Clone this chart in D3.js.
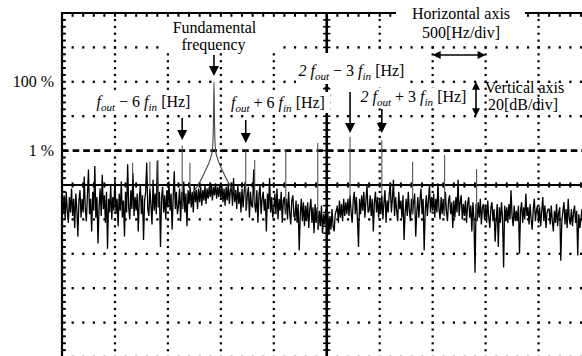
<!DOCTYPE html>
<html><head><meta charset="utf-8">
<script src="https://cdn.jsdelivr.net/npm/d3@7"></script>
<style>
html,body{margin:0;padding:0;background:#fff;}
svg{display:block;}
text{white-space:pre;font-family:"Liberation Serif","Times New Roman",serif;}
</style></head><body>
<svg id="chart" width="582" height="356"></svg>
<script>
// ---------------- DATA ----------------
// spectrum trace sampled every 10 Hz from 0 Hz (dB, 0 dB = 100 %)
const freqStepHz = 10;
const noiseDb = [
 -70,-77,-66,-80,-64,-75,-82,-67,-76,-62,
 -78,-68,-85,-65,-74,-90,-69,-63,-79,-68,
 -76,-55,-74,-81,-66,-51,-77,-68,-87,-64,
 -75,-49,-79,-67,-94,-73,-62,-78,-54,-74,
 -66,-82,-64,-97,-68,-76,-60,-80,-67,-75,
 -56,-77,-68,-84,-65,-75,-58,-79,-69,-90,
 -64,-76,-48,-73,-80,-63,-74,-53,-78,-67,
 -75,-65,-87,-68,-60,-77,-66,-92,-69,-64,
 -47,-74,-78,-62,-72,-83,-57,-75,-65,-77,
 -46,-73,-64,-96,-68,-61,-76,-66,-80,-63,
 -73,-58,-75,-65,-86,-67,-52,-74,-64,-77,
 -72,-62,-81,-64,-74,-58,-76,-65,-84,-63,
 -71,-61,-73,-64,-76,-60,-70,-63,-74,-62,
 -70,-61,-72,-63,-69,-60,-71,-62,-68,-61,
 -67,-60,-69,-61,-66,-59,-68,-61,-67,-60,
 -68,-60,-70,-62,-72,-61,-69,-59,-71,-63,
 -61,-72,-56,-70,-63,-74,-60,-71,-64,-76,
 -62,-73,-64,-58,-75,-66,-61,-79,-64,-72,
 -73,-51,-71,-76,-63,-82,-66,-60,-77,-68,
 -64,-75,-68,-87,-65,-74,-56,-76,-67,-79,
 -74,-65,-77,-62,-80,-68,-75,-64,-82,-69,
 -67,-77,-68,-80,-64,-76,-83,-69,-66,-78,
 -79,-69,-82,-71,-98,-77,-68,-81,-70,-84,
 -72,-81,-70,-85,-74,-68,-82,-73,-88,-71,
 -82,-73,-86,-75,-84,-72,-88,-77,-83,-74,
 -85,-76,-89,-78,-86,-74,-84,-87,-77,-75,
 -72,-82,-69,-79,-71,-81,-68,-78,-70,-77,
 -68,-78,-66,-76,-82,-69,-64,-77,-67,-80,
 -96,-68,-77,-66,-75,-64,-79,-69,-60,-76,
 -75,-66,-78,-68,-87,-70,-64,-76,-67,-79,
 -68,-77,-66,-80,-70,-63,-82,-69,-76,-65,
 -59,-76,-68,-57,-78,-67,-75,-81,-64,-74,
 -69,-79,-66,-92,-76,-68,-78,-64,-75,-81,
 -68,-77,-70,-65,-90,-76,-67,-79,-69,-62,
 -77,-68,-98,-75,-66,-78,-69,-60,-76,-67,
 -75,-65,-79,-68,-76,-59,-74,-80,-67,-77,
 -68,-78,-64,-75,-81,-69,-66,-77,-70,-85,
 -69,-79,-67,-76,-57,-78,-70,-66,-80,-71,
 -78,-69,-82,-71,-67,-79,-72,-87,-70,-80,
 -111,-71,-81,-70,-79,-68,-83,-73,-71,-80,
 -72,-82,-69,-79,-85,-73,-70,-81,-74,-93,
 -80,-71,-96,-73,-82,-70,-79,-108,-72,-81,
 -73,-82,-71,-80,-63,-78,-84,-72,-81,-75,
 -81,-72,-100,-75,-70,-82,-73,-80,-65,-78,
 -73,-83,-71,-80,-86,-74,-68,-81,-75,-72,
 -82,-73,-84,-75,-67,-81,-72,-85,-76,-74,
 -74,-83,-72,-81,-87,-75,-82,-71,-84,-76,
 -73,-104,-81,-75,-70,-83,-74,-85,-68,-80,
 -83,-74,-84,-76,-72,-82,-75,-101,-77,-85,
 -80,-74
];
// discrete spectral lines (Hz, peak dB)
const harmonicFreqs = [667, 830, 906, 1135, 1208, 1735, 1820, 2113, 2415, 2720, 3020, 3311, 3613, 3915];
const harmonicDb    = [-47, -46.5, -45.5, -37, -47, -40, -45.5, -39, -35.6, -32, -34, -46.5, -42.6, -50.7];
// fundamental component and its skirt
const fundamentalFreq = 1435;
const skirtOffsetHz = [-200,-150,-110,-80,-50,-30,-16,-8,-4,0,4,8,16,30,50,80,110,150,200];
const skirtDb       = [-65,-60,-55.5,-51.5,-47.5,-44,-40,-32,-20,0,-20,-32,-40,-44,-47.5,-51.5,-55.5,-60,-65];
// screen divisions
const xDivHz  = [0,500,1000,1500,2000,2500,3000,3500,4000,4500,5000];
const yDivDb  = [40,20,0,-20,-40,-60,-80,-100,-120,-140,-160];
const levelLabels = ["100 %", "1 %"];
const levelDb = [0, -40];
const f_in = 50;

// ---------------- SCALES ----------------
const svg = d3.select("#chart");
const x = d3.scaleLinear().domain([0, 5000]).range([62, 591.5]);
const y = d3.scaleLinear().domain([-160, 40]).range([357, 13]);
const centerHz = 2500, centerDb = -60, refDb = -40;
const FONT = "Liberation Serif";

// ---------------- GRID ----------------
const grid = svg.append("g");
const minorX = d3.range(0, 5001, 100);   // 1/5 division
const minorY = d3.range(-160, 41, 4);
yDivDb.filter(d => d !== 40 && d !== centerDb && d !== refDb).forEach(d => {
  grid.selectAll(null).data(minorX.filter(f => f > 0)).join("rect")
    .attr("x", f => x(f) - 1).attr("y", y(d) - 1.2).attr("width", 2.2).attr("height", 2.4).attr("fill", "#000");
});
xDivHz.filter(f => f > 0 && f !== centerHz).forEach(f => {
  grid.selectAll(null).data(minorY.filter(d => d < 40)).join("rect")
    .attr("x", x(f) - 1.1).attr("y", d => y(d) - 1).attr("width", 2.2).attr("height", 2.2).attr("fill", "#000");
});
grid.append("line").attr("x1", x(0)).attr("x2", 582).attr("y1", y(refDb)).attr("y2", y(refDb))
  .attr("stroke", "#000").attr("stroke-width", 2.6).attr("stroke-dasharray", "6.6,4");
grid.append("line").attr("x1", x(0)).attr("x2", 582).attr("y1", y(centerDb)).attr("y2", y(centerDb))
  .attr("stroke", "#000").attr("stroke-width", 2);
grid.selectAll(null).data(minorX).join("line")
  .attr("x1", f => x(f)).attr("x2", f => x(f)).attr("y1", y(centerDb) - 2.6).attr("y2", y(centerDb) + 2.6)
  .attr("stroke", "#000").attr("stroke-width", 2);
grid.append("line").attr("x1", x(centerHz)).attr("x2", x(centerHz)).attr("y1", y(40)).attr("y2", 356)
  .attr("stroke", "#000").attr("stroke-width", 2.6);
grid.selectAll(null).data(minorY).join("line")
  .attr("x1", x(centerHz) - 3.6).attr("x2", x(centerHz) + 3.6).attr("y1", d => y(d)).attr("y2", d => y(d))
  .attr("stroke", "#000").attr("stroke-width", 1.6);
grid.append("line").attr("x1", x(0) - 1).attr("x2", 582).attr("y1", y(40)).attr("y2", y(40))
  .attr("stroke", "#000").attr("stroke-width", 2.2);
grid.selectAll(null).data(minorX).join("line")
  .attr("x1", f => x(f)).attr("x2", f => x(f)).attr("y1", y(40)).attr("y2", y(40) + 3.8)
  .attr("stroke", "#000").attr("stroke-width", 2);
grid.append("line").attr("x1", x(0)).attr("x2", x(0)).attr("y1", y(40) - 1).attr("y2", 356)
  .attr("stroke", "#000").attr("stroke-width", 2.2);
grid.selectAll(null).data(minorY).join("line")
  .attr("x1", x(0)).attr("x2", x(0) + 3.8).attr("y1", d => y(d)).attr("y2", d => y(d))
  .attr("stroke", "#000").attr("stroke-width", 2);

// ---------------- SPECTRUM ----------------
const plot = svg.append("g");
plot.append("path").datum(noiseDb)
  .attr("d", d3.line().x((d, i) => x(i * freqStepHz)).y(d => y(d)))
  .attr("fill", "none").attr("stroke", "#000").attr("stroke-width", 1.3).attr("stroke-linejoin", "miter").attr("stroke-miterlimit", 2);
plot.selectAll(null).data(harmonicFreqs).join("line")
  .attr("x1", f => x(f)).attr("x2", f => x(f))
  .attr("y1", (f, i) => y(harmonicDb[i]))
  .attr("y2", f => y(noiseDb[Math.round(f / freqStepHz)]))
  .attr("stroke", "#555").attr("stroke-width", 1.1);
plot.append("path").datum(skirtOffsetHz.map((o, i) => [fundamentalFreq + o, skirtDb[i]]))
  .attr("d", d3.line().x(d => x(d[0])).y(d => y(d[1])).curve(d3.curveMonotoneX))
  .attr("fill", "none").attr("stroke", "#444").attr("stroke-width", 1.1);

// ---------------- LEVEL LABELS ----------------
svg.selectAll(null).data(levelLabels).join("text")
  .attr("x", 54).attr("y", (d, i) => y(levelDb[i]) + 5.5).attr("font-family", FONT)
  .attr("text-anchor", "end").attr("font-size", 16).text(d => d);

// ---------------- ANNOTATIONS ----------------
const ann = svg.append("g");
const boxes = [[160, 17, 115, 36], [396, 0, 129, 42], [296, 53, 114, 31], [229, 92, 101, 21], [94, 92, 98, 20], [358, 88, 110, 20]];
ann.selectAll(null).data(boxes).join("rect")
  .attr("x", d => d[0]).attr("y", d => d[1]).attr("width", d => d[2]).attr("height", d => d[3]).attr("fill", "#fff");

function label(px, py, anchor, parts) {
  const t = ann.append("text").attr("x", px).attr("y", py).attr("text-anchor", anchor)
    .attr("font-size", 16).attr("font-family", FONT);
  let shifted = false;
  parts.forEach(([s, k]) => {
    const sp = t.append("tspan").text(s);
    if (k === "i" || k === "s") sp.attr("font-style", "italic");
    if (k === "s") { sp.attr("font-size", 11); if (!shifted) { sp.attr("dy", 4); shifted = true; } }
    else if (shifted) { sp.attr("dy", -4); shifted = false; }
  });
}
label(214.5, 32.5, "middle", [["Fundamental", "n"]]);
label(213.5, 50, "middle", [["frequency", "n"]]);
label(143.5, 106.5, "middle", [["f", "i"], ["out", "s"], [" \u2212 6 ", "n"], ["f", "i"], ["in", "s"], [" [Hz]", "n"]]);
label(278, 107.5, "middle", [["f", "i"], ["out", "s"], [" + 6 ", "n"], ["f", "i"], ["in", "s"], [" [Hz]", "n"]]);
label(351.5, 76, "middle", [["2 ", "i"], ["f", "i"], ["out", "s"], [" \u2212 3 ", "n"], ["f", "i"], ["in", "s"], [" [Hz]", "n"]]);
label(413.5, 101.5, "middle", [["2 ", "i"], ["f", "i"], ["out", "s"], [" + 3 ", "n"], ["f", "i"], ["in", "s"], [" [Hz]", "n"]]);
label(461, 18.5, "middle", [["Horizontal axis", "n"]]);
label(461, 37.5, "middle", [["500[Hz/div]", "n"]]);
label(524.5, 92.5, "middle", [["Vertical axis", "n"]]);
label(523, 110, "middle", [["20[dB/div]", "n"]]);

function downArrow(px, y1, y2, hl, hw) {
  ann.append("line").attr("x1", px).attr("x2", px).attr("y1", y1).attr("y2", y2 - hl + 1)
    .attr("stroke", "#000").attr("stroke-width", 1.6);
  ann.append("path").attr("d", `M${px - hw / 2},${y2 - hl}L${px + hw / 2},${y2 - hl}L${px},${y2}Z`).attr("fill", "#000");
}
downArrow(x(fundamentalFreq), 55, 76, 10, 10);
downArrow(x(fundamentalFreq - 6 * f_in), 118, 140, 10, 10);
downArrow(x(fundamentalFreq + 6 * f_in), 120, 143, 10, 10);
downArrow(x(2 * fundamentalFreq - 3 * f_in), 92, 133, 10, 10);
downArrow(x(2 * fundamentalFreq + 3 * f_in), 109, 133, 10, 10);
downArrow(x(centerHz), 84, 91, 4, 5);

function hDouble(x1, x2, py) {
  ann.append("line").attr("x1", x1 + 7).attr("x2", x2 - 7).attr("y1", py).attr("y2", py).attr("stroke", "#000").attr("stroke-width", 1.6);
  ann.append("path").attr("d", `M${x1},${py}L${x1 + 8},${py - 4}L${x1 + 8},${py + 4}Z M${x2},${py}L${x2 - 8},${py - 4}L${x2 - 8},${py + 4}Z`).attr("fill", "#000");
}
function vDouble(px, y1, y2) {
  ann.append("line").attr("x1", px).attr("x2", px).attr("y1", y1 + 7).attr("y2", y2 - 7).attr("stroke", "#000").attr("stroke-width", 1.6);
  ann.append("path").attr("d", `M${px},${y1}L${px - 4},${y1 + 8}L${px + 4},${y1 + 8}Z M${px},${y2}L${px - 4},${y2 - 8}L${px + 4},${y2 - 8}Z`).attr("fill", "#000");
}
hDouble(x(3500), x(4000), 55);
vDouble(476, y(0), y(-20));
</script>
</body></html>
